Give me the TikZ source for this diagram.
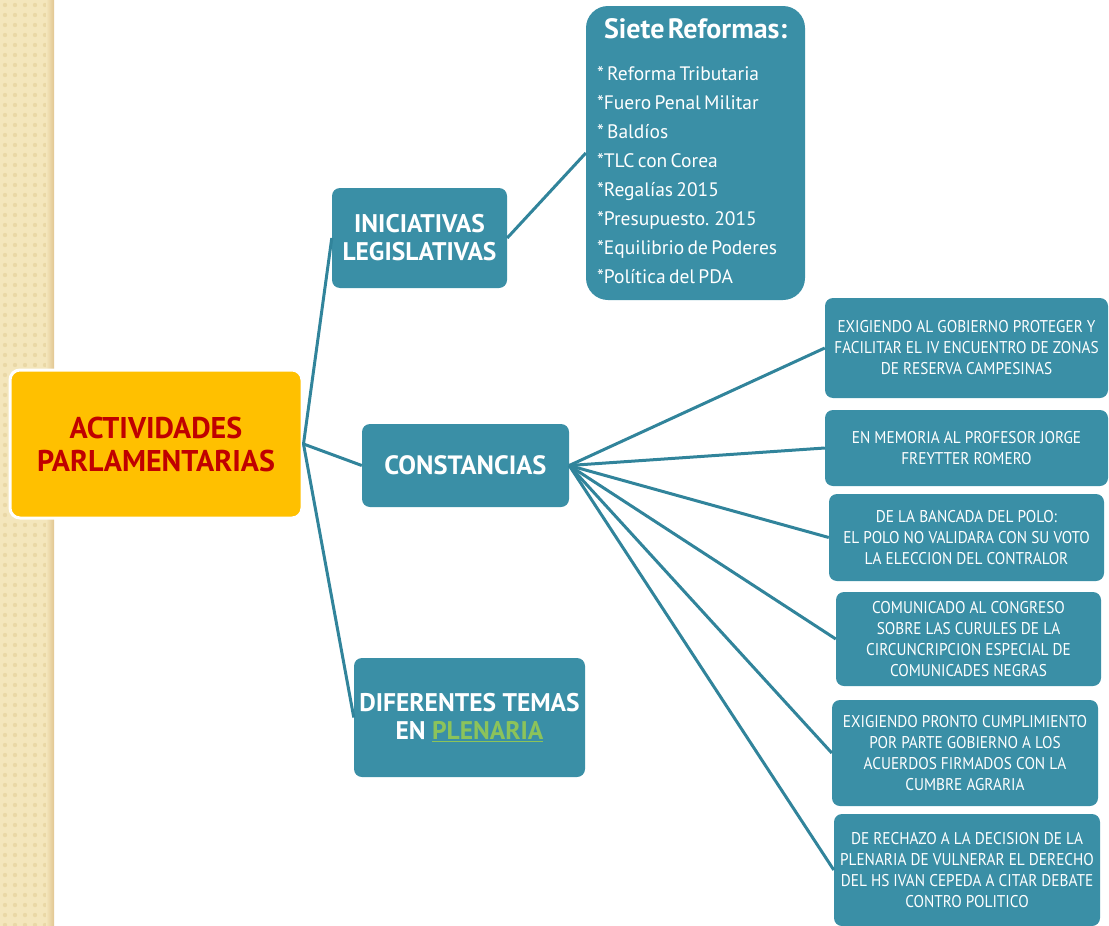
\documentclass[tikz,border=0pt]{standalone}
\usepackage{fontspec}
\setmainfont{PT Sans}
\newfontfamily\narrowfont[FakeStretch=0.9]{PT Sans}
\definecolor{teal1}{HTML}{3A8FA6}
\definecolor{tealline}{HTML}{31849B}
\definecolor{gold}{HTML}{FFC000}
\definecolor{darkred}{HTML}{C00000}
\definecolor{beige}{HTML}{F4E6BC}
\definecolor{beigedot}{HTML}{EAD8A6}
\definecolor{plgreen}{HTML}{8CC35A}
\tikzset{
  x=1pt, y=1pt,
  mainbox/.style={draw=white, line width=3pt, fill=gold, rounded corners=10pt, text=darkred, font=\fontsize{30}{33}\selectfont\bfseries, align=center, inner sep=0pt},
  catbox/.style={fill=teal1, rounded corners=8pt, text=white, font=\fontsize{25.5}{28}\selectfont\bfseries, align=center, inner sep=0pt},
  listbox/.style={fill=teal1, rounded corners=22pt, text=white, align=left, inner sep=0pt},
  itembox/.style={fill=teal1, rounded corners=8pt, text=white, font=\narrowfont\fontsize{17}{21}\selectfont, align=center, inner sep=0pt},
  link/.style={draw=tealline, line width=3pt}
}
\begin{document}
\begin{tikzpicture}
\useasboundingbox (0,0) rectangle (1109,-926);
% left decorative stripe
\fill[beige] (0,0) rectangle (54,-926);
\foreach \i in {0,...,4}{
  \foreach \j in {0,...,92}{
    \fill[beigedot] (5+10*\i,-5-10*\j) circle (2.2);
  }
}
\shade[left color=beige, right color=beigedot!80!brown] (46,0) rectangle (54,-926);

% main node
\node[mainbox, minimum width=292, minimum height=148] (main) at (156,-444) {ACTIVIDADES\\PARLAMENTARIAS};

% categories
\node[catbox, minimum width=175, minimum height=100] (ini) at (419.5,-238) {INICIATIVAS\\LEGISLATIVAS};
\node[catbox, minimum width=207, minimum height=83, font=\fontsize{26.5}{30}\selectfont\bfseries] (con) at (465.5,-465.5) {CONSTANCIAS};
\node[catbox, minimum width=231, minimum height=119] (dif) at (469.5,-717.5) {DIFERENTES TEMAS\\EN \textcolor{plgreen}{\underline{PLENARIA}}};

% siete reformas
\node[listbox, minimum width=219, minimum height=294, text width=205] (sie) at (695.5,-153)
{\centering{\fontsize{28}{30}\selectfont\bfseries Siete Reformas:}\par
\vspace{13pt}
\raggedright\fontsize{19.5}{29}\selectfont
\hspace*{4pt}* Reforma Tributaria\\
\hspace*{4pt}*Fuero Penal Militar\\
\hspace*{4pt}* Baldíos\\
\hspace*{4pt}*TLC con Corea\\
\hspace*{4pt}*Regalías 2015\\
\hspace*{4pt}*Presupuesto. 2015\\
\hspace*{4pt}*Equilibrio de Poderes\\
\hspace*{4pt}*Política del PDA\par\vspace{4pt}};

% constancias items
\node[itembox, minimum width=283, minimum height=100] (r1) at (966.5,-348) {EXIGIENDO AL GOBIERNO PROTEGER Y\\FACILITAR EL IV ENCUENTRO DE ZONAS\\DE RESERVA CAMPESINAS};
\node[itembox, minimum width=283, minimum height=76] (r2) at (966.5,-448) {EN MEMORIA AL PROFESOR JORGE\\FREYTTER ROMERO};
\node[itembox, minimum width=275, minimum height=87] (r3) at (966.5,-537.5) {DE LA BANCADA DEL POLO:\\EL POLO NO VALIDARA CON SU VOTO\\LA ELECCION DEL CONTRALOR};
\node[itembox, minimum width=265, minimum height=94] (r4) at (968.5,-639) {COMUNICADO AL CONGRESO\\SOBRE LAS CURULES DE LA\\CIRCUNCRIPCION ESPECIAL DE\\COMUNICADES NEGRAS};
\node[itembox, minimum width=266, minimum height=106] (r5) at (965,-753) {EXIGIENDO PRONTO CUMPLIMIENTO\\POR PARTE GOBIERNO A LOS\\ACUERDOS FIRMADOS CON LA\\CUMBRE AGRARIA};
\node[itembox, minimum width=266, minimum height=112] (r6) at (967,-870) {DE RECHAZO A LA DECISION DE LA\\PLENARIA DE VULNERAR EL DERECHO\\DEL HS IVAN CEPEDA A CITAR DEBATE\\CONTRO POLITICO};

% connectors
\draw[link] (main.east) -- (ini.west);
\draw[link] (main.east) -- (con.west);
\draw[link] (main.east) -- (dif.west);
\draw[link] (ini.east) -- (sie.west);
\foreach \r in {r1,r2,r3,r4,r5,r6}{
  \draw[link] (con.east) -- (\r.west);
}
\end{tikzpicture}
\end{document}
